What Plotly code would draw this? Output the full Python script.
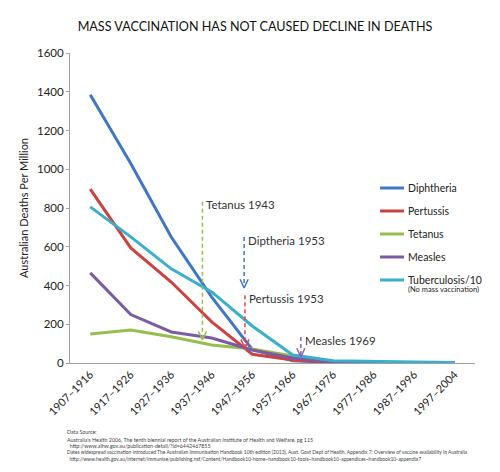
import plotly.graph_objects as go

categories = ["1907–1916", "1917–1926", "1927–1936", "1937–1946", "1947–1956",
              "1957–1966", "1967–1976", "1977–1986", "1987–1996", "1997–2004"]
diphtheria = [1384, 1030, 650, 340, 70, 12, 3, 1, 0.5, 0.5]
pertussis = [897, 594, 418, 212, 45, 15, 3, 1, 0.5, 0.5]
tetanus = [150, 170, 135, 93, 72, 36, 8, 3, 2, 1]
measles = [465, 250, 160, 129, 67, 26, 5, 2, 1, 0.5]
tuberculosis10 = [806, 651, 486, 367, 191, 41, 12, 7, 5, 3]

series_names = ["Diphtheria", "Pertussis", "Tetanus", "Measles", "Tuberculosis/10"]
series_values = [diphtheria, pertussis, tetanus, measles, tuberculosis10]
series_colors = ["#3F77C4", "#CC4240", "#96BE4C", "#7D5AA6", "#3AAFCB"]

# vaccination markers: label, x (category index), top, tip
marker_labels = ["Tetanus 1943", "Diptheria 1953", "Pertussis 1953", "Measles 1969"]
marker_x = [2.77, 3.8, 3.82, 5.2]
marker_top = [832, 650, 350, 134]
marker_tip = [119, 387, 77, 31]
marker_colors = ["#96BE4C", "#3F77C4", "#E04545", "#8A5FC0"]

footnote_lines = [
    "Data Source:",
    "Australia's Health 2006, The tenth biennial report of the Australian Institute of Health and Welfare, pg 115",
    "  http://www.aihw.gov.au/publication-detail/?id=6442467855",
    "Dates widespread vaccination introduced The Australian Immunisation Handbook 10th edition (2013), Aust. Govt Dept of Health, Appendix 7: Overview of vaccine availability in Australia",
    "  http://www.health.gov.au/internet/immunise/publishing.nsf/Content/Handbook10-home~handbook10-tools~handbook10-appendices~handbook10-appendix7",
]

W, H = 492, 464          # page body has an 8px margin
L, R, T, B = 62, 25, 45, 109
PW, PH = W - L - R, H - T - B

def px(fx):
    return (fx - L) / PW

def py(fy):
    return 1 - (fy - T) / PH

x_idx = list(range(len(categories)))
fig = go.Figure()
for name, vals, col in zip(series_names, series_values, series_colors):
    fig.add_trace(go.Scatter(x=x_idx, y=vals, mode="lines", name=name, showlegend=False,
                             line=dict(color=col, width=3)))

anns = []
shapes = []
for lab, mx, top, tip, col in zip(marker_labels, marker_x, marker_top, marker_tip, marker_colors):
    fig.add_trace(go.Scatter(x=[mx, mx], y=[top, tip], mode="lines", showlegend=False,
                             line=dict(color=col, width=1.5, dash="4px,3px"), hoverinfo="skip"))
    fig.add_trace(go.Scatter(x=[mx - 0.1, mx, mx + 0.1], y=[tip + 45, tip, tip + 45], mode="lines",
                             showlegend=False, line=dict(color=col, width=1.5), hoverinfo="skip"))
    anns.append(dict(x=mx, y=top, xref="x", yref="y", text=lab, showarrow=False,
                     xanchor="left", yanchor="middle", xshift=2, yshift=-3,
                     font=dict(size=11.5, color="#333333")))

# legend (Excel style, drawn inside the plot area)
leg_y = [180, 203, 226, 249, 272]
for name, col, ly in zip(series_names, series_colors, leg_y):
    shapes.append(dict(type="line", xref="paper", yref="paper", x0=px(372), x1=px(396),
                       y0=py(ly), y1=py(ly), line=dict(color=col, width=3)))
    anns.append(dict(x=px(398), y=py(ly), xref="paper", yref="paper", text=name, showarrow=False,
                     xanchor="left", yanchor="middle", font=dict(size=10.5, color="#222222")))
anns.append(dict(x=px(398), y=py(281), xref="paper", yref="paper", text="(No mass vaccination)",
                 showarrow=False, xanchor="left", yanchor="middle", font=dict(size=7.5, color="#222222")))

foot_y = [424, 431.5, 437.5, 444, 450.5]
foot_size = [5.3, 5.3, 5.3, 4.95, 5.0]
for txt, fy, fs in zip(footnote_lines, foot_y, foot_size):
    anns.append(dict(x=px(57), y=py(fy), xref="paper", yref="paper", text=txt, showarrow=False,
                     xanchor="left", yanchor="middle", align="left",
                     font=dict(size=fs, color="#444444")))

fig.update_layout(
    width=W, height=H,
    margin=dict(l=L, r=R, t=T, b=B, autoexpand=False),
    paper_bgcolor="white", plot_bgcolor="white",
    font=dict(family="Lato, Open Sans, sans-serif", color="#333333"),
    title=dict(text="MASS VACCINATION HAS NOT CAUSED DECLINE IN DEATHS", x=247 / W, xanchor="center",
               xref="container", yref="container", y=1 - 19 / H, yanchor="middle",
               font=dict(size=12.6, color="#111111")),
    xaxis=dict(range=[-0.5, 9.5], tickvals=x_idx, ticktext=categories, tickangle=-45,
               showline=True, linecolor="#A0A0A0", linewidth=1, showgrid=False, zeroline=False,
               tickfont=dict(size=11, color="#222222"), ticks=""),
    yaxis=dict(range=[0, 1600], dtick=200, showline=True, linecolor="#A0A0A0", linewidth=1,
               showgrid=False, zeroline=False, ticks="outside", ticklen=3, tickcolor="#A0A0A0",
               tickfont=dict(size=11.5, color="#222222"),
               title=dict(text="Australian Deaths Per Million", standoff=6,
                          font=dict(size=11, color="#222222"))),
    showlegend=False,
    annotations=anns,
    shapes=shapes,
)
fig.write_html("out.html")
